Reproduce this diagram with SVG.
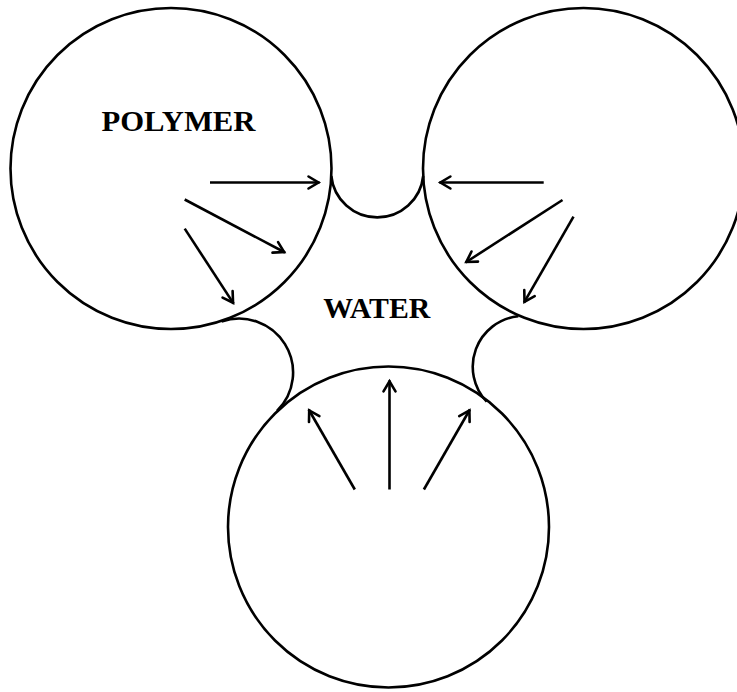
<svg xmlns="http://www.w3.org/2000/svg" width="737" height="692" viewBox="0 0 737 692">
<style>
.shape{fill:none;stroke:#000;stroke-width:2.6}
.arrow{fill:none;stroke:#000;stroke-width:2.6;marker-end:url(#head)}
.label{font-family:"Liberation Serif","Times New Roman",serif;font-weight:bold;fill:#000}
</style>
<defs>
<marker id="head" markerUnits="userSpaceOnUse" markerWidth="20" markerHeight="20" refX="1" refY="0" viewBox="-14 -10 20 20" orient="auto" overflow="visible">
<path d="M-10,-6 L0,0 L-10,6" fill="none" stroke="#000" stroke-width="2.6" stroke-linecap="round" stroke-linejoin="miter"/>
</marker>
</defs>
<rect width="737" height="692" fill="#fff"/>
<g id="polymer-top-left">
<circle class="shape" cx="171" cy="168.5" r="160.5"/>
<text class="label" x="101.5" y="130.7" font-size="29" textLength="154" lengthAdjust="spacingAndGlyphs">POLYMER</text>
</g>
<g id="polymer-top-right">
<circle class="shape" cx="583.5" cy="168.5" r="160.5"/>
</g>
<g id="polymer-bottom">
<circle class="shape" cx="388.5" cy="527" r="160.5"/>
</g>
<g id="neck-top">
<path class="shape" d="M331.3,176 A46.2,46.2 0 0 0 423.2,176"/>
</g>
<g id="neck-left">
<path class="shape" d="M221.5,321.5 A54,54 0 0 1 277,411"/>
</g>
<g id="neck-right">
<path class="shape" d="M518.3,316.2 A50.8,50.8 0 0 0 486.7,401.7"/>
</g>
<g id="water">
<text class="label" x="323.3" y="318.3" font-size="28.5" textLength="107" lengthAdjust="spacingAndGlyphs">WATER</text>
</g>
<g id="connectors">
<line class="arrow" x1="210" y1="182.5" x2="319.5" y2="182.5"/>
<line class="arrow" x1="184.7" y1="199.5" x2="285" y2="252.5"/>
<line class="arrow" x1="184.7" y1="228.6" x2="233.6" y2="303.6"/>
<line class="arrow" x1="543.7" y1="182.5" x2="439.4" y2="182.5"/>
<line class="arrow" x1="562.5" y1="200" x2="465.5" y2="262.5"/>
<line class="arrow" x1="573.5" y1="216.7" x2="524" y2="302.7"/>
<line class="arrow" x1="354.8" y1="489.5" x2="308.7" y2="409.5"/>
<line class="arrow" x1="389.5" y1="489.5" x2="389.5" y2="380.4"/>
<line class="arrow" x1="423.9" y1="489.5" x2="469.9" y2="409.5"/>
</g>
</svg>
